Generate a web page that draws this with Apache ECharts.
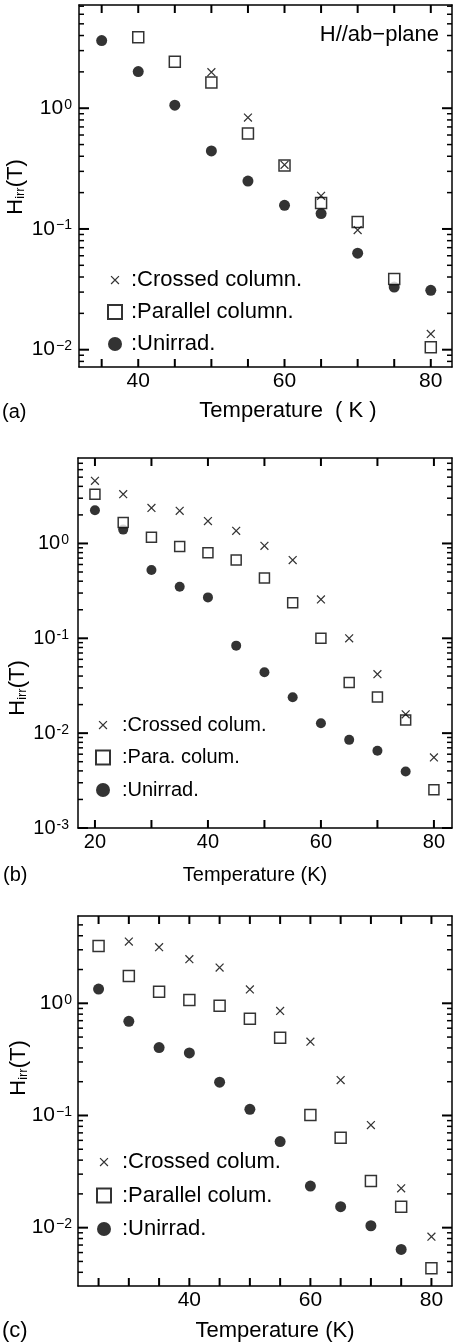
<!DOCTYPE html>
<html><head><meta charset="utf-8">
<script src="https://cdn.jsdelivr.net/npm/echarts@6/dist/echarts.min.js"></script>
<style>html,body{margin:0;padding:0;background:#fff}#c{width:455px;height:1342px}</style>
</head><body><div id="c"></div>
<script>
// ---------- Data ----------
// Panel (a): H // ab-plane
const tempA      = [35, 40, 45, 50, 55, 60, 65, 70, 75, 80];
const crossedA   = [null, null, null, 1.99, 0.837, 0.34, 0.188, 0.098, null, 0.0135];
const parallelA  = [null, 3.87, 2.43, 1.63, 0.617, 0.335, 0.164, 0.114, 0.0385, 0.0105];
const unirradA   = [3.63, 2.01, 1.06, 0.443, 0.249, 0.157, 0.134, 0.063, 0.033, 0.031];
// Panel (b)
const tempB      = [20, 25, 30, 35, 40, 45, 50, 55, 60, 65, 70, 75, 80];
const crossedB   = [4.57, 3.31, 2.37, 2.21, 1.72, 1.36, 0.945, 0.668, 0.257, 0.100, 0.0418, 0.0158, 0.00554];
const parallelB  = [3.31, 1.66, 1.16, 0.93, 0.80, 0.668, 0.432, 0.237, 0.100, 0.0341, 0.0241, 0.0138, 0.00253];
const unirradB   = [2.24, 1.40, 0.524, 0.35, 0.27, 0.0837, 0.0439, 0.0239, 0.0127, 0.0085, 0.00652, 0.00394, null];
// Panel (c)
const tempC      = [25, 30, 35, 40, 45, 50, 55, 60, 65, 70, 75, 80];
const crossedC   = [null, 3.55, 3.16, 2.47, 2.08, 1.33, 0.855, 0.455, 0.207, 0.0822, 0.0224, 0.0083];
const parallelC  = [3.24, 1.75, 1.27, 1.07, 0.953, 0.73, 0.494, 0.101, 0.0634, 0.026, 0.0154, 0.00434];
const unirradC   = [1.34, 0.691, 0.403, 0.361, 0.198, 0.1135, 0.0585, 0.0235, 0.0154, 0.0104, 0.0064, null];

// Tick labels
const xLabelsA = [40, 60, 80];
const xLabelsB = [20, 40, 60, 80];
const xLabelsC = [40, 60, 80];

// Tick positions (axis values)
const xTicksA = [35, 40, 45, 50, 55, 60, 65, 70, 75, 80];
const xTicksB = [20, 30, 40, 50, 60, 70, 80];
const xTicksC = [25, 30, 35, 40, 45, 50, 55, 60, 65, 70, 75, 80];
const decadesA = [0.001, 0.01, 0.1, 1];
const decadesB = [0.001, 0.01, 0.1, 1];
const decadesC = [0.001, 0.01, 0.1, 1];
const minorMultipliers = [2, 3, 4, 5, 6, 7, 8, 9];

// Legend / series names
const namesA = ['Crossed column.', 'Parallel column.', 'Unirrad.'];
const namesB = ['Crossed colum.', 'Para. colum.', 'Unirrad.'];
const namesC = ['Crossed colum.', 'Parallel colum.', 'Unirrad.'];

// ---------- Helpers ----------
const F = 'Liberation Sans, Arial, Helvetica, sans-serif';
const BLACK = '#000';
const CROSS = 'path://M-3,-3M13,13M0,1L1,0L10,9L9,10ZM9,0L10,1L1,10L0,9Z';

function pairs(xs, ys) {
  const out = [];
  xs.forEach((x, i) => { if (ys[i] != null) out.push([x, ys[i]]); });
  return out;
}

function xAxis(g, min, max, labels, fs, pos) {
  return {
    type: 'value', gridIndex: g, min: min, max: max, position: pos,
    splitLine: { show: false },
    axisLine: { show: true, onZero: false, lineStyle: { color: BLACK, width: 1.5 } },
    axisTick: { show: false },
    minorTick: { show: false },
    axisLabel: pos === 'bottom' ? { show: true, margin: 4, color: BLACK, fontSize: fs, fontFamily: F,
        formatter: v => labels.indexOf(Math.round(v * 1000) / 1000) >= 0 ? String(v) : '' }
      : { show: false }
  };
}

function yAxis(g, min, max, minus, fs, margin, pos) {
  return {
    type: 'log', gridIndex: g, min: min, max: max, position: pos,
    splitLine: { show: false },
    axisLine: { show: true, onZero: false, lineStyle: { color: BLACK, width: 1.5 } },
    axisTick: { show: false },
    minorTick: { show: false },
    axisLabel: pos === 'left' ? { show: true, margin: margin, color: BLACK, fontFamily: F,
        formatter: v => {
          const l = Math.log10(v), e = Math.round(l);
          if (Math.abs(l - e) > 1e-6) return '';
          return '{m|10}{s|' + (e < 0 ? minus + (-e) : String(e)) + '}';
        },
        rich: {
          m: { fontSize: fs, fontFamily: F, color: BLACK },
          s: { fontSize: 14, fontFamily: F, color: BLACK, verticalAlign: 'top', padding: [0, 0, 6, 1] }
        }
      } : { show: false }
  };
}

// Tick marks drawn through the axes' own scales (custom series), on all four frame sides
function tickData(xTicks, decades, xMin, xMax, yMin, yMax) {
  const out = [];
  xTicks.forEach(v => { if (v > xMin && v < xMax) out.push([v, yMin, 0]); });
  decades.forEach(d => {
    if (d >= yMin && d <= yMax) out.push([xMin, d, 1]);
    minorMultipliers.forEach(m => {
      const v = d * m;
      if (v > yMin && v < yMax) out.push([xMin, v, 2]);
    });
  });
  return out;
}
function renderTick(params, api) {
  const cs = params.coordSys;
  const kind = api.value(2);
  const p = api.coord([api.value(0), api.value(1)]);
  if (kind === 0) {
    const st = { stroke: BLACK, lineWidth: 2 };
    const L = 8;
    return { type: 'group', children: [
      { type: 'line', shape: { x1: p[0], y1: cs.y + cs.height, x2: p[0], y2: cs.y + cs.height - L }, style: st },
      { type: 'line', shape: { x1: p[0], y1: cs.y, x2: p[0], y2: cs.y + L }, style: st }
    ] };
  }
  const L = kind === 1 ? 10 : 5;
  const st = { stroke: BLACK, lineWidth: kind === 1 ? 2 : 1.5 };
  return { type: 'group', children: [
    { type: 'line', shape: { x1: cs.x, y1: p[1], x2: cs.x + L, y2: p[1] }, style: st },
    { type: 'line', shape: { x1: cs.x + cs.width, y1: p[1], x2: cs.x + cs.width - L, y2: p[1] }, style: st }
  ] };
}
function tickSeries(g, data) {
  return { type: 'custom', name: 'ticks' + g, xAxisIndex: 2 * g, yAxisIndex: 2 * g,
    renderItem: renderTick, data: data, silent: true, clip: false, z: 10 };
}

function panelSeries(g, names, temps, crossed, parallel, unirrad, sqSize, circSize) {
  return [
    { name: names[2], type: 'scatter', xAxisIndex: 2 * g, yAxisIndex: 2 * g,
      symbol: 'circle', symbolSize: circSize, itemStyle: { color: BLACK },
      data: pairs(temps, unirrad), z: 2 },
    { name: names[1], type: 'scatter', xAxisIndex: 2 * g, yAxisIndex: 2 * g,
      symbol: 'rect', symbolSize: sqSize, itemStyle: { color: '#fff', borderColor: BLACK, borderWidth: 1.5 },
      data: pairs(temps, parallel), z: 3 },
    { name: names[0], type: 'scatter', xAxisIndex: 2 * g, yAxisIndex: 2 * g,
      symbol: CROSS, symbolSize: 14, itemStyle: { color: BLACK },
      data: pairs(temps, crossed), z: 4 }
  ];
}

function legend(names, left, top, fs, gap, pad) {
  return {
    data: names.slice(), orient: 'vertical', left: left, top: top,
    itemWidth: 14, itemHeight: 14, itemGap: gap, selectedMode: false,
    formatter: n => ':' + n,
    textStyle: { fontSize: fs, fontFamily: F, color: BLACK, lineHeight: 24, padding: [0, 0, 0, pad] }
  };
}

function label(text, x, y, fs, align) {
  return { type: 'text', x: x, y: y, z: 100,
    style: { text: text, fontSize: fs, fontFamily: F, fill: BLACK, align: align || 'left', verticalAlign: 'middle' } };
}
function yName(x, y, fs) {
  return { type: 'text', x: x, y: y, rotation: Math.PI / 2, z: 100,
    style: { text: '{h|H}{s|irr}{h|(T)}', fill: BLACK, align: 'center', verticalAlign: 'middle',
      rich: { h: { fontSize: fs, fontFamily: F, fill: BLACK },
              s: { fontSize: 13, fontFamily: F, fill: BLACK, verticalAlign: 'bottom', padding: [8, 0, 0, 0] } } } };
}

const XA = [31.9, 82.9], XB = [17.0, 83.2], XC = [21.6, 83.4];
const YA = [0.00719, 7.16], YB = [0.001, 7.96], YC = [0.00302, 6.0];

const option = {
  animation: false,
  backgroundColor: '#fff',
  grid: [
    { left: 79, top: 5, width: 375, height: 362 },
    { left: 78, top: 458, width: 375, height: 370 },
    { left: 78, top: 916, width: 376, height: 370 }
  ],
  xAxis: [
    xAxis(0, XA[0], XA[1], xLabelsA, 21, 'bottom'),
    xAxis(0, XA[0], XA[1], xLabelsA, 21, 'top'),
    xAxis(1, XB[0], XB[1], xLabelsB, 20, 'bottom'),
    xAxis(1, XB[0], XB[1], xLabelsB, 20, 'top'),
    xAxis(2, XC[0], XC[1], xLabelsC, 21, 'bottom'),
    xAxis(2, XC[0], XC[1], xLabelsC, 21, 'top')
  ],
  yAxis: [
    yAxis(0, YA[0], YA[1], '\u2212', 21, 7, 'left'),
    yAxis(0, YA[0], YA[1], '\u2212', 21, 7, 'right'),
    yAxis(1, YB[0], YB[1], '-', 20, 9, 'left'),
    yAxis(1, YB[0], YB[1], '-', 20, 9, 'right'),
    yAxis(2, YC[0], YC[1], '\u2212', 21, 6, 'left'),
    yAxis(2, YC[0], YC[1], '\u2212', 21, 6, 'right')
  ],
  legend: [
    legend(namesA, 102, 263, 22, 8, 4),
    legend(namesB, 90, 708, 20, 8.5, 7),
    legend(namesC, 91, 1145, 22, 9.5, 6)
  ],
  series: [].concat(
    panelSeries(0, namesA, tempA, crossedA, parallelA, unirradA, 11, 11),
    panelSeries(1, namesB, tempB, crossedB, parallelB, unirradB, 10, 10),
    panelSeries(2, namesC, tempC, crossedC, parallelC, unirradC, 11, 11),
    [
      tickSeries(0, tickData(xTicksA, decadesA, XA[0], XA[1], YA[0], YA[1])),
      tickSeries(1, tickData(xTicksB, decadesB, XB[0], XB[1], YB[0], YB[1])),
      tickSeries(2, tickData(xTicksC, decadesC, XC[0], XC[1], YC[0], YC[1]))
    ]
  ),
  graphic: [
    label('H//ab\u2212plane', 439, 35, 22, 'right'),
    label('(a)', 2, 412, 20),
    label('Temperature  ( K )', 288, 411, 22, 'center'),
    label('(b)', 3, 875, 20),
    label('Temperature (K)', 255, 875, 20, 'center'),
    label('(c)', 2, 1331, 22),
    label('Temperature (K)', 275, 1331, 22, 'center'),
    yName(16, 187, 22),
    yName(18, 688, 22),
    yName(19, 1068, 22)
  ]
};

const chart = echarts.init(document.getElementById('c'));
chart.setOption(option);
</script>
</body></html>
